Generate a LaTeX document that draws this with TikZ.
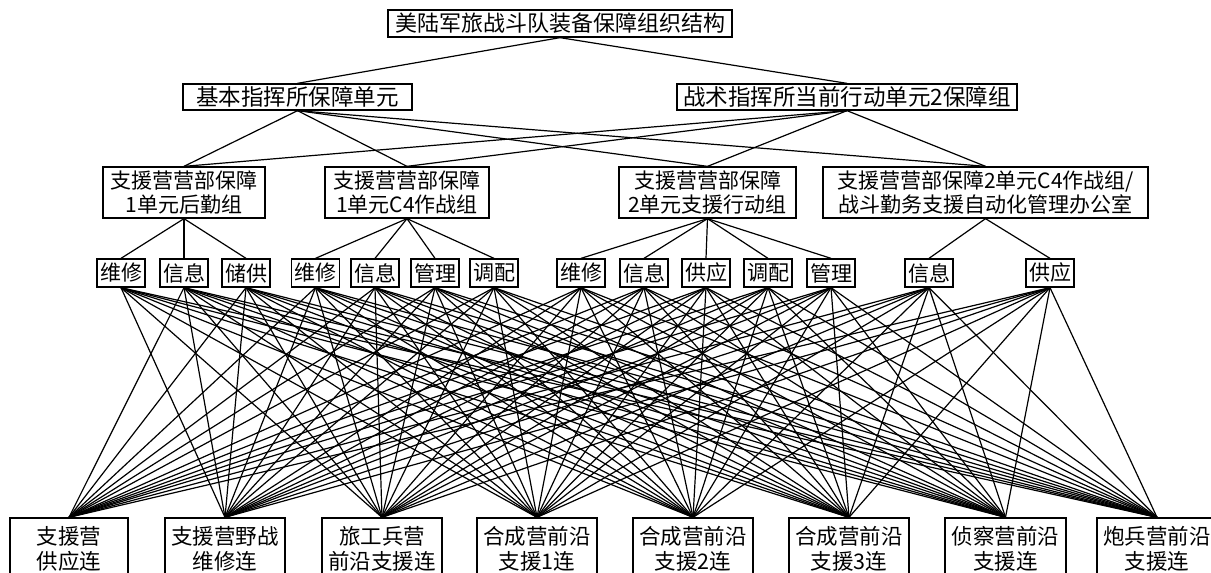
\documentclass[tikz,border=0pt]{standalone}
\usepackage{fontspec}
\setmainfont{Noto Sans CJK SC}
\newcommand\myfs{\fontsize{21}{24}\selectfont}
\newcommand\mytitle{\fontsize{22}{24}\selectfont}
\newcommand\mylvl{\fontsize{22.5}{24}\selectfont}
\newcommand\mysmall{\fontsize{21}{24}\selectfont}
\newcommand\mybot{\fontsize{21.5}{25}\selectfont}
\begin{document}
\begin{tikzpicture}[x=1pt,y=-1pt,
  box/.style={draw,line width=1.3pt,inner sep=0pt,align=center,font=\myfs,fill=white},
  sbox/.style={box,minimum width=48pt,minimum height=28pt,font=\mysmall},
  bbox/.style={box,minimum width=120pt,minimum height=62pt,font=\mybot},
  ln/.style={line width=1.2pt}]
\useasboundingbox (0,0) rectangle (1211,573);
% level 0
\node[box,minimum width=344pt,minimum height=27pt,font=\mytitle] (T) at (560,23.5) {美陆军旅战斗队装备保障组织结构};
% level 1
\node[box,minimum width=229pt,minimum height=26pt,font=\mylvl] (A) at (297.5,97) {基本指挥所保障单元};
\node[box,minimum width=340pt,minimum height=26pt,font=\mylvl] (B) at (847,97) {战术指挥所当前行动单元2保障组};
% level 2
\node[box,minimum width=162pt,minimum height=51pt] (C1) at (184,192.5) {支援营营部保障\\1单元后勤组};
\node[box,minimum width=164pt,minimum height=51pt] (C2) at (407,192.5) {支援营营部保障\\1单元C4作战组};
\node[box,minimum width=177pt,minimum height=51pt] (C3) at (707.5,192.5) {支援营营部保障\\2单元支援行动组};
\node[box,minimum width=325pt,minimum height=51pt] (C4) at (985.5,192.5) {支援营营部保障2单元C4作战组/\\战斗勤务支援自动化管理办公室};
% level 3
\node[sbox] (s1) at (121,273) {维修};
\node[sbox] (s2) at (184,273) {信息};
\node[sbox] (s3) at (246,273) {储供};
\node[sbox] (s4) at (315.5,273) {维修};
\node[sbox] (s5) at (375,273) {信息};
\node[sbox] (s6) at (435,273) {管理};
\node[sbox] (s7) at (494,273) {调配};
\node[sbox] (s8) at (581,273) {维修};
\node[sbox] (s9) at (644,273) {信息};
\node[sbox] (s10) at (706,273) {供应};
\node[sbox] (s11) at (768,273) {调配};
\node[sbox] (s12) at (831,273) {管理};
\node[sbox] (s13) at (929,273) {信息};
\node[sbox] (s14) at (1050,273) {供应};
% level 4
\node[bbox,minimum width=118pt] (b1) at (69,549) {支援营\\供应连};
\node[bbox] (b2) at (225,549) {支援营野战\\维修连};
\node[bbox] (b3) at (382,549) {旅工兵营\\前沿支援连};
\node[bbox] (b4) at (537,549) {合成营前沿\\支援1连};
\node[bbox] (b5) at (693,549) {合成营前沿\\支援2连};
\node[bbox] (b6) at (849,549) {合成营前沿\\支援3连};
\node[bbox,minimum width=121pt] (b7) at (1005.5,549) {侦察营前沿\\支援连};
\node[bbox] (b8) at (1157,549) {炮兵营前沿\\支援连};
% connectors
\draw[ln] (T.south) -- (A.north);
\draw[ln] (T.south) -- (B.north);
\foreach \p in {A,B}{\foreach \c in {C1,C2,C3,C4}{\draw[ln] (\p.south) -- (\c.north);}}
\foreach \c/\s in {C1/s1,C1/s2,C1/s3,C2/s4,C2/s5,C2/s6,C2/s7,C3/s8,C3/s9,C3/s10,C3/s11,C3/s12,C4/s13,C4/s14}{\draw[ln] (\c.south) -- (\s.north);}
\foreach \s in {1,...,14}{\foreach \b in {1,...,8}{
  \ifnum\s=1 \ifnum\b=1 \else \draw[ln] (s\s.south) -- (b\b.north); \fi
  \else \draw[ln] (s\s.south) -- (b\b.north); \fi}}
\end{tikzpicture}
\end{document}
